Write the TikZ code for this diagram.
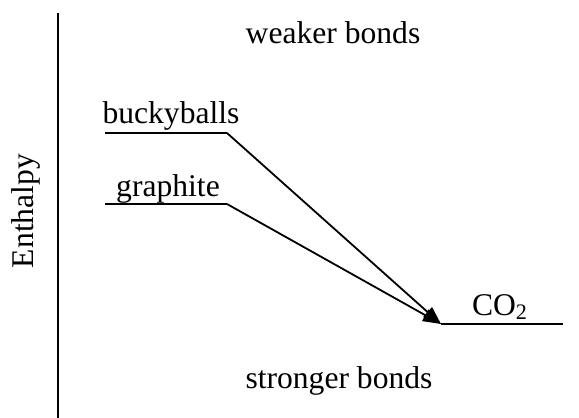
\documentclass[tikz,border=0pt]{standalone}
\usepackage{fontspec}
\setmainfont{Liberation Serif}
\usetikzlibrary{arrows.meta}
\begin{document}
\begin{tikzpicture}[x=0.5pt,y=-0.5pt,
    lbl/.style={font=\fontsize{15.8}{19}\selectfont, inner sep=0pt, anchor=base},
    level/.style={line width=1pt},
    drop/.style={line width=0.9pt, -{Triangle[length=9pt,width=6.5pt]}}]
        \useasboundingbox (0,0) rectangle (579,418);

        \coordinate (axtop) at (58,13);
        \coordinate (axbot) at (58,418);
        \coordinate (buckyL) at (105,133);
        \coordinate (buckyR) at (227,133);
        \coordinate (graphL) at (105,204);
        \coordinate (graphR) at (227,204);
        \coordinate (co2L) at (441,324);
        \coordinate (co2R) at (563,324);

        \node[lbl] (weaker) at (333,43) {weaker bonds};
        \node[lbl] (stronger) at (339,388) {stronger bonds};
        \node[lbl, rotate=90] (enthalpy) at (33,211) {Enthalpy};
        \node[lbl] (bucky) at (171,123) {buckyballs};
        \node[lbl] (graph) at (168,196) {graphite};
        \node[lbl] (co2) at (500,315) {CO\textsubscript{2}};

        \draw[line width=1pt] (axtop) -- (axbot);
        \draw[level] (buckyL) -- (buckyR) (graphL) -- (graphR) (co2L) -- (co2R);
        \draw[drop] (buckyR) -- (co2L);
        \draw[drop] (graphR) -- (co2L);
    \end{tikzpicture}
\end{document}
